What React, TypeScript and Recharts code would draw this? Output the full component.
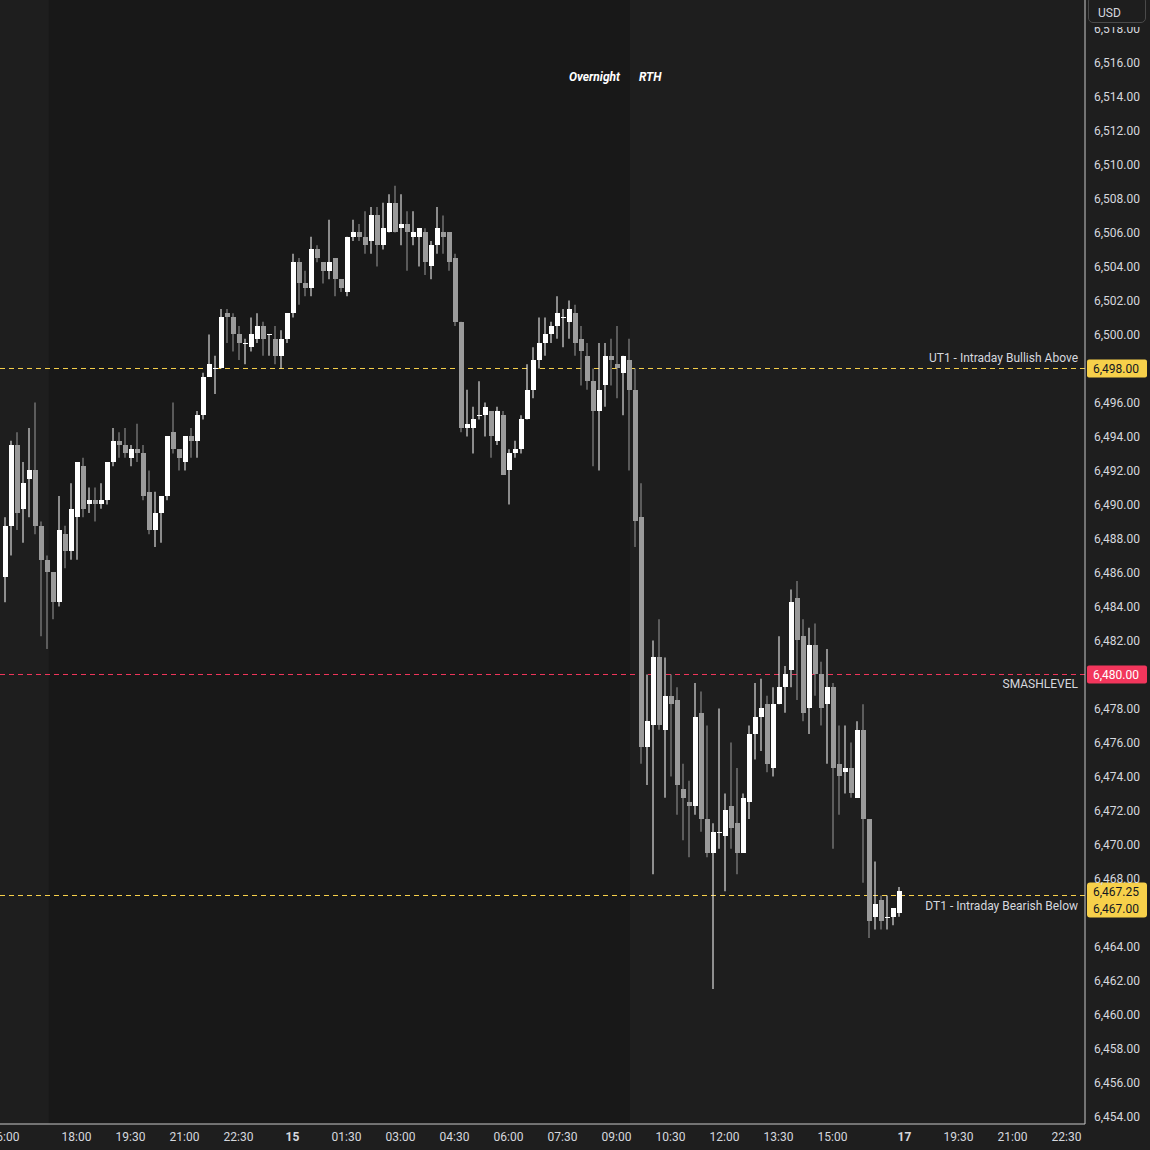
import React from "react";
import {
  ComposedChart,
  Bar,
  XAxis,
  YAxis,
  ReferenceLine,
  ReferenceArea,
} from "recharts";

// 10-minute bars, [open, high, low, close]
const lateBars = [
  [6485.75, 6489.25, 6484.25, 6488.75],
  [6488.75, 6493.75, 6487.0, 6493.5],
  [6493.5, 6494.25, 6488.5, 6489.5],
  [6489.75, 6492.5, 6487.75, 6491.25],
  [6491.5, 6494.5, 6489.25, 6492.0],
  [6492.0, 6496.0, 6488.25, 6488.75],
  [6488.75, 6489.0, 6482.25, 6486.75],
  [6486.75, 6487.0, 6481.5, 6486.0],
  [6486.0, 6486.0, 6483.25, 6484.25],
  [6484.25, 6490.5, 6484.0, 6488.5],
  [6488.25, 6488.75, 6486.25, 6487.25],
  [6487.25, 6491.25, 6486.75, 6489.75],
];

const overnightBars = [
  [6489.25, 6492.5, 6486.75, 6492.5],
  [6492.25, 6492.75, 6489.25, 6489.75],
  [6490.0, 6491.0, 6489.5, 6490.25],
  [6490.25, 6491.0, 6489.0, 6490.0],
  [6490.0, 6491.25, 6489.75, 6490.25],
  [6490.25, 6492.5, 6490.0, 6492.5],
  [6492.5, 6494.5, 6492.25, 6493.75],
  [6493.75, 6494.25, 6492.75, 6493.5],
  [6493.5, 6494.5, 6492.75, 6493.0],
  [6492.75, 6493.5, 6492.25, 6493.25],
  [6493.25, 6494.75, 6492.5, 6493.0],
  [6493.0, 6493.5, 6490.25, 6490.5],
  [6490.75, 6492.0, 6488.25, 6488.5],
  [6488.5, 6490.75, 6487.5, 6489.5],
  [6489.5, 6490.5, 6487.75, 6490.5],
  [6490.5, 6494.0, 6490.25, 6494.0],
  [6494.25, 6496.0, 6493.0, 6493.25],
  [6493.25, 6493.25, 6492.0, 6492.75],
  [6492.5, 6494.0, 6492.0, 6494.0],
  [6494.0, 6494.5, 6492.75, 6493.75],
  [6493.75, 6495.5, 6492.75, 6495.25],
  [6495.25, 6497.75, 6495.0, 6497.5],
  [6497.5, 6500.0, 6497.5, 6498.25],
  [6498.0, 6498.75, 6496.5, 6498.0],
  [6498.0, 6501.5, 6498.0, 6501.0],
  [6501.25, 6501.5, 6499.5, 6501.0],
  [6501.0, 6501.25, 6499.0, 6500.0],
  [6500.0, 6500.5, 6498.5, 6499.5],
  [6499.5, 6499.75, 6498.25, 6499.5],
  [6499.25, 6501.0, 6499.0, 6500.0],
  [6499.75, 6501.25, 6499.5, 6500.5],
  [6500.5, 6500.75, 6498.75, 6499.75],
  [6500.0, 6500.0, 6498.75, 6500.0],
  [6499.75, 6500.5, 6498.25, 6498.75],
  [6498.75, 6500.25, 6498.0, 6499.75],
  [6499.75, 6501.25, 6499.5, 6501.25],
  [6501.25, 6504.75, 6501.0, 6504.25],
  [6504.25, 6504.5, 6501.75, 6503.0],
  [6503.0, 6503.75, 6502.25, 6502.75],
  [6502.75, 6505.75, 6502.25, 6505.0],
  [6505.0, 6505.25, 6504.25, 6504.5],
  [6504.25, 6504.25, 6503.0, 6503.75],
  [6503.75, 6506.75, 6503.25, 6504.25],
  [6504.5, 6504.5, 6502.25, 6503.25],
  [6503.25, 6503.25, 6502.5, 6502.75],
  [6502.5, 6505.75, 6502.25, 6505.75],
  [6505.75, 6506.75, 6505.5, 6506.0],
  [6506.0, 6506.5, 6505.5, 6505.75],
  [6505.75, 6507.25, 6504.75, 6505.25],
  [6505.5, 6507.5, 6504.75, 6507.0],
  [6507.0, 6507.5, 6504.0, 6505.25],
  [6505.25, 6507.75, 6505.0, 6506.25],
  [6506.0, 6508.25, 6506.0, 6507.75],
  [6507.75, 6508.75, 6506.0, 6506.0],
  [6506.25, 6508.25, 6505.25, 6506.5],
  [6506.5, 6507.25, 6503.75, 6506.0],
  [6505.75, 6507.25, 6505.25, 6506.0],
  [6505.75, 6506.25, 6504.0, 6506.25],
  [6506.0, 6506.25, 6503.5, 6504.25],
  [6504.0, 6505.5, 6503.25, 6505.25],
  [6505.25, 6507.5, 6504.75, 6506.25],
  [6506.0, 6507.0, 6504.75, 6505.75],
  [6506.0, 6506.0, 6503.75, 6504.25],
  [6504.5, 6504.75, 6500.5, 6500.75],
  [6500.75, 6500.75, 6494.25, 6494.5],
  [6494.5, 6496.75, 6494.0, 6494.75],
  [6494.5, 6495.75, 6493.0, 6495.0],
  [6495.25, 6497.25, 6495.0, 6495.25],
  [6495.25, 6496.0, 6494.0, 6495.75],
  [6495.5, 6495.5, 6492.75, 6494.0],
  [6493.75, 6495.75, 6493.5, 6495.5],
  [6495.25, 6495.5, 6491.75, 6491.75],
  [6492.0, 6493.25, 6490.0, 6493.0],
  [6493.0, 6493.75, 6492.75, 6493.25],
  [6493.25, 6495.25, 6493.0, 6495.0],
  [6495.0, 6498.25, 6495.0, 6496.75],
  [6496.75, 6499.25, 6496.25, 6498.5],
  [6498.5, 6501.0, 6498.0, 6499.5],
  [6499.5, 6501.0, 6498.75, 6500.0],
  [6500.0, 6500.75, 6499.5, 6500.5],
  [6500.5, 6502.25, 6499.75, 6501.25],
  [6501.0, 6501.5, 6499.25, 6501.0],
  [6500.75, 6502.0, 6499.75, 6501.5],
  [6501.25, 6501.75, 6498.75, 6499.5],
  [6499.75, 6500.5, 6497.0, 6499.0],
  [6498.75, 6499.5, 6496.75, 6497.25],
  [6497.25, 6498.0, 6492.25, 6495.5],
  [6495.5, 6499.5, 6492.0, 6496.75],
  [6497.0, 6499.5, 6495.75, 6498.75],
  [6498.75, 6499.75, 6497.0, 6498.5],
  [6498.25, 6500.5, 6496.25, 6498.0],
  [6497.75, 6498.75, 6495.25, 6498.75],
  [6498.5, 6499.75, 6492.0, 6496.75],
];

const rthBars = [
  [6496.75, 6498.0, 6487.5, 6489.0],
  [6489.25, 6491.25, 6474.75, 6475.75],
  [6475.75, 6480.0, 6473.5, 6477.25],
  [6477.0, 6482.0, 6468.25, 6481.0],
  [6481.0, 6483.25, 6476.75, 6477.0],
  [6476.75, 6481.0, 6472.75, 6478.75],
  [6478.75, 6480.0, 6474.0, 6478.25],
  [6478.5, 6479.25, 6471.75, 6473.5],
  [6473.25, 6474.75, 6470.25, 6472.75],
  [6472.5, 6473.75, 6469.25, 6472.25],
  [6472.25, 6479.5, 6471.75, 6477.5],
  [6477.75, 6479.0, 6470.75, 6471.5],
  [6471.5, 6477.0, 6469.25, 6469.5],
  [6469.5, 6471.25, 6461.5, 6470.75],
  [6470.75, 6478.0, 6469.75, 6470.75],
  [6470.5, 6473.0, 6467.25, 6472.0],
  [6472.25, 6476.0, 6469.75, 6471.0],
  [6471.25, 6474.5, 6468.25, 6469.5],
  [6469.5, 6473.0, 6469.5, 6472.75],
  [6472.5, 6477.0, 6471.5, 6476.5],
  [6476.5, 6479.5, 6475.0, 6477.5],
  [6477.5, 6479.75, 6475.5, 6478.0],
  [6478.25, 6478.75, 6474.25, 6474.75],
  [6474.5, 6479.25, 6474.0, 6478.25],
  [6478.25, 6482.25, 6478.25, 6479.25],
  [6479.25, 6480.5, 6477.75, 6480.0],
  [6480.25, 6485.0, 6479.25, 6484.25],
  [6484.5, 6485.5, 6478.5, 6482.0],
  [6482.25, 6483.25, 6477.25, 6477.75],
  [6478.0, 6482.75, 6476.5, 6481.75],
  [6481.75, 6483.0, 6478.75, 6480.0],
  [6480.0, 6480.75, 6477.0, 6478.0],
  [6478.25, 6481.5, 6474.75, 6479.25],
  [6479.25, 6479.5, 6469.75, 6474.5],
  [6474.75, 6477.0, 6471.75, 6474.0],
  [6474.25, 6477.0, 6473.0, 6474.5],
  [6474.5, 6476.0, 6472.75, 6473.0],
  [6472.75, 6477.25, 6472.75, 6476.75],
  [6476.75, 6478.25, 6467.75, 6471.5],
  [6471.5, 6471.5, 6464.5, 6465.5],
  [6465.75, 6469.0, 6465.0, 6466.5],
  [6466.75, 6467.0, 6465.0, 6465.5],
  [6465.75, 6467.0, 6465.0, 6465.75],
  [6465.75, 6466.25, 6465.25, 6466.25],
  [6466.0, 6467.5, 6465.75, 6467.25],
];

// x axis: bar index -> label
const timeTicks = [0, 12, 21, 30, 39, 48, 57, 66, 75, 84, 93, 102, 111, 120, 129, 138, 150, 159, 168, 177];
const timeLabels = ["16:00", "18:00", "19:30", "21:00", "22:30", "15", "01:30", "03:00", "04:30", "06:00", "07:30", "09:00", "10:30", "12:00", "13:30", "15:00", "17", "19:30", "21:00", "22:30"];
const dayLabels = ["15", "17"];

// price ticks (the ones under the level tags are left out, like TV does)
const priceTicks = [
  6454, 6456, 6458, 6460, 6462, 6464, 6468, 6470, 6472, 6474, 6476, 6478,
  6482, 6484, 6486, 6488, 6490, 6492, 6494, 6496, 6500, 6502, 6504, 6506,
  6508, 6510, 6512, 6514, 6516, 6518,
];

const UT1 = 6498;
const SMASH = 6480;
const DT1 = 6467;

const FONT = "Roboto, sans-serif";
const BG = "#1e1e1e";
const BG_NIGHT = "#181818";
const UP = "#ffffff";
const DOWN = "#9a9a9a";
const YELLOW = "#f7d04a";
const RED = "#f2365c";
const TEXT = "#d6d8de";
const AXIS = "#c9c9c9";

const data = [...lateBars, ...overnightBars, ...rthBars].map(([o, h, l, c], i) => ({
  i,
  o,
  h,
  l,
  c,
}));
const lastClose = data[data.length - 1].c;

const fmt = (v: number) =>
  v.toLocaleString("en-US", { minimumFractionDigits: 2, maximumFractionDigits: 2 });

const Candle = (props: any) => {
  const { x, y, width, height, payload } = props;
  const { o, h, l, c } = payload;
  const top = Math.min(y, y + height);
  const span = Math.abs(height);
  const k = h > l ? span / (h - l) : 0;
  const py = (p: number) => top + (h - p) * k;
  const color = c >= o ? UP : DOWN;
  const cx = x + width / 2;
  const bTop = py(Math.max(o, c));
  const bH = Math.max(1, py(Math.min(o, c)) - bTop);
  return (
    <g>
      <line x1={cx} x2={cx} y1={top} y2={top + span} stroke={color} strokeWidth={1} />
      <rect x={x} y={bTop} width={width} height={bH} fill={color} shapeRendering="crispEdges" />
    </g>
  );
};

const TimeTick = ({ x, y, payload }: any) => {
  const label = timeLabels[timeTicks.indexOf(payload.value)];
  return (
    <text
      x={x}
      y={y + 17}
      textAnchor="middle"
      fill={TEXT}
      fontSize={12}
      fontFamily={FONT}
      fontWeight={dayLabels.includes(label) ? 700 : 400}
    >
      {label}
    </text>
  );
};

const Tag = ({ x, y, text, bg, fg }: any) => (
  <g>
    <rect x={x} y={y - 9} width={60} height={18} rx={2} fill={bg} />
    <text x={x + 6} y={y} dy="0.35em" fill={fg} fontSize={12} fontFamily={FONT}>
      {text}
    </text>
  </g>
);

const levelLabel = (name: string, below: boolean) => (props: any) => {
  const vb = props.viewBox || {};
  const right = vb.x + vb.width;
  return (
    <text
      x={right - 7}
      y={below ? vb.y + 14 : vb.y - 6}
      textAnchor="end"
      fill={TEXT}
      fontSize={12}
      fontFamily={FONT}
    >
      {name}
    </text>
  );
};

const ut1Label = (props: any) => {
  const vb = props.viewBox || {};
  return (
    <g>
      {levelLabel("UT1 - Intraday Bullish Above", false)(props)}
      <Tag x={vb.x + vb.width + 2} y={vb.y} text={fmt(UT1)} bg={YELLOW} fg="#131722" />
    </g>
  );
};

const smashLabel = (props: any) => {
  const vb = props.viewBox || {};
  return (
    <g>
      {levelLabel("SMASHLEVEL", true)(props)}
      <Tag x={vb.x + vb.width + 2} y={vb.y} text={fmt(SMASH)} bg={RED} fg="#ffffff" />
    </g>
  );
};

const dt1Label = (props: any) => {
  const vb = props.viewBox || {};
  const x = vb.x + vb.width + 2;
  return (
    <g>
      {levelLabel("DT1 - Intraday Bearish Below", true)(props)}
      <rect x={x} y={vb.y - 13} width={60} height={35} rx={3} fill={YELLOW} />
      <text x={x + 6} y={vb.y - 4} dy="0.35em" fill="#131722" fontSize={12} fontFamily={FONT}>
        {fmt(lastClose)}
      </text>
      <text x={x + 6} y={vb.y + 13} dy="0.35em" fill="#131722" fontSize={12} fontFamily={FONT}>
        {fmt(DT1)}
      </text>
    </g>
  );
};

const sessionLabel = (props: any) => {
  const vb = props.viewBox || {};
  const style = { fontSize: 12, fontFamily: FONT, fontStyle: "italic", fontWeight: 700 };
  return (
    <g>
      <text x={vb.x - 10} y={81} textAnchor="end" fill="#ffffff" {...style}>
        Overnight
      </text>
      <text x={vb.x + 9} y={81} textAnchor="start" fill="#ffffff" {...style}>
        RTH
      </text>
    </g>
  );
};

export default function App() {
  return (
    <div
      style={{
        position: "absolute",
        left: 0,
        top: 0,
        width: 1150,
        height: 1150,
        background: BG,
        overflow: "hidden",
      }}
    >
      <ComposedChart
        width={1150}
        height={1150}
        data={data}
        margin={{ top: 0, right: 0, bottom: 0, left: 0 }}
      >
        <XAxis
          type="number"
          dataKey="i"
          domain={[-0.75, 180.0833]}
          allowDataOverflow
          ticks={timeTicks}
          interval={0}
          tick={<TimeTick />}
          tickLine={false}
          tickSize={0}
          tickMargin={0}
          axisLine={{ stroke: AXIS }}
          height={26}
        />
        <YAxis
          orientation="right"
          domain={[6453.559, 6519.676]}
          allowDataOverflow
          ticks={priceTicks}
          interval={0}
          tickFormatter={fmt}
          tick={{ fill: TEXT, fontSize: 12, fontFamily: FONT, textAnchor: "start" }}
          tickLine={false}
          tickSize={0}
          tickMargin={9}
          axisLine={{ stroke: AXIS }}
          width={65}
        />
        <ReferenceArea
          x1={7.4}
          x2={104.25}
          fill={BG_NIGHT}
          fillOpacity={1}
          stroke="none"
        />
        <ReferenceLine x={104.25} stroke="none" label={sessionLabel} />
        <ReferenceLine
          y={UT1}
          stroke={YELLOW}
          strokeDasharray="5 4"
          label={ut1Label}
          zIndex={250}
        />
        <ReferenceLine
          y={SMASH}
          stroke={RED}
          strokeDasharray="5 4"
          label={smashLabel}
          zIndex={250}
        />
        <ReferenceLine
          y={DT1}
          stroke={YELLOW}
          strokeDasharray="5 4"
          label={dt1Label}
          zIndex={250}
        />
        <Bar
          dataKey={(d: any) => [d.l, d.h]}
          barSize={5}
          shape={<Candle />}
          isAnimationActive={false}
        />
      </ComposedChart>
      <div
        style={{
          position: "absolute",
          left: 1086,
          top: 0,
          width: 64,
          height: 27,
          background: BG,
        }}
      />
      <div
        style={{
          position: "absolute",
          left: 1088,
          top: -4,
          width: 58,
          height: 27,
          border: "1px solid #4a4a4a",
          borderRadius: 5,
          background: BG,
          color: TEXT,
          fontFamily: FONT,
          fontSize: 12,
          lineHeight: "12px",
          boxSizing: "border-box",
          padding: "10px 0 0 9px",
        }}
      >
        USD
      </div>
    </div>
  );
}
